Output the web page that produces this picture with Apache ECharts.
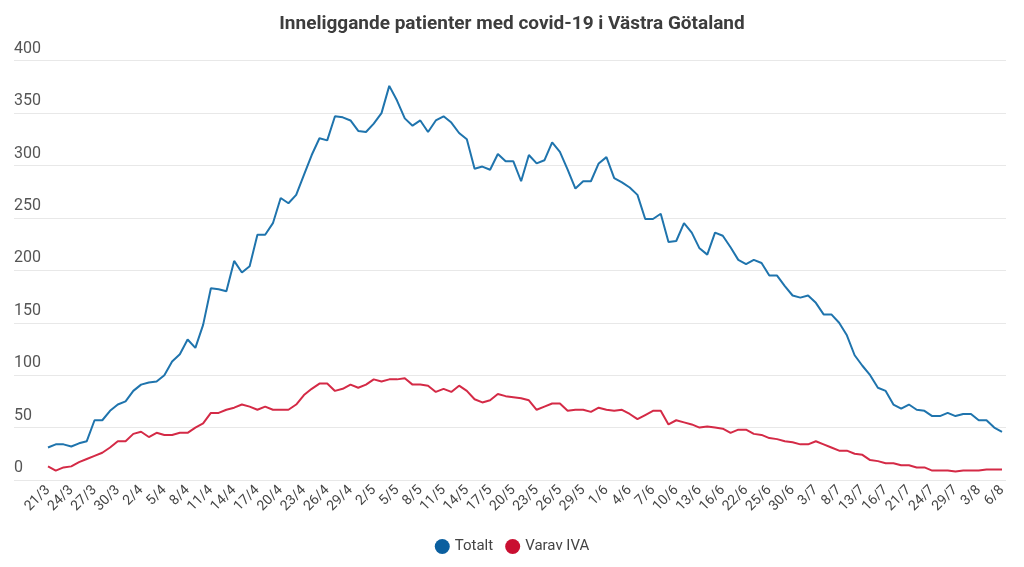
<!DOCTYPE html>
<html>
<head>
<meta charset="utf-8">
<script src="https://cdn.jsdelivr.net/npm/echarts@6/dist/echarts.min.js"></script>
<style>
html,body{margin:0;padding:0;background:#fff;}
#c{width:1024px;height:567px;}
</style>
</head>
<body>
<div id="c"></div>
<script>
const categories = [
'21/3','22/3','23/3','24/3','25/3','26/3','27/3','28/3','29/3','30/3','31/3',
'1/4','2/4','3/4','4/4','5/4','6/4','7/4','8/4','9/4','10/4','11/4','12/4','13/4','14/4','15/4','16/4','17/4','18/4','19/4','20/4','21/4','22/4','23/4','24/4','25/4','26/4','27/4','28/4','29/4','30/4',
'1/5','2/5','3/5','4/5','5/5','6/5','7/5','8/5','9/5','10/5','11/5','12/5','13/5','14/5','15/5','16/5','17/5','18/5','19/5','20/5','21/5','22/5','23/5','24/5','25/5','26/5','27/5','28/5','29/5','30/5','31/5',
'1/6','2/6','3/6','4/6','5/6','6/6','7/6','8/6','9/6','10/6','11/6','12/6','13/6','14/6','15/6','16/6','17/6','18/6','22/6','23/6','24/6','25/6','26/6','29/6','30/6',
'1/7','2/7','3/7','6/7','7/7','8/7','9/7','10/7','13/7','14/7','15/7','16/7','17/7','20/7','21/7','22/7','23/7','24/7','27/7','28/7','29/7','30/7','31/7',
'3/8','4/8','5/8','6/8'
];
const totalt = [
31,34,34,32,35,37,57,57,66,72,75,85,91,93,94,100,113,120,134,126,
148,183,182,180,209,198,204,234,234,245,269,264,272,291,310,326,324,347,346,343,
333,332,340,350,376,362,345,338,343,332,343,347,341,331,325,297,299,296,311,304,
304,285,310,302,305,322,313,296,278,285,285,302,308,288,284,279,272,249,249,254,
227,228,245,236,221,215,236,233,222,210,206,210,207,195,195,185,176,174,176,169,
158,158,150,138,119,109,100,88,85,72,68,72,67,66,61,61,64,61,63,63,
57,57,50,46
];
const varavIVA = [
13,9,12,13,17,20,23,26,31,37,37,44,46,41,45,43,43,45,45,50,
54,64,64,67,69,72,70,67,70,67,67,67,72,81,87,92,92,85,87,91,
88,91,96,94,96,96,97,91,91,90,84,87,84,90,85,77,74,76,82,80,
79,78,76,67,70,73,73,66,67,67,65,69,67,66,67,63,58,62,66,66,
53,57,55,53,50,51,50,49,45,48,48,44,43,40,39,37,36,34,34,37,
34,31,28,28,25,24,19,18,16,16,14,14,12,12,9,9,9,8,9,9,
9,10,10,10
];
const seriesNames = ['Totalt', 'Varav IVA'];
const titleText = 'Inneliggande patienter med covid-19 i Västra Götaland';

const chart = echarts.init(document.getElementById('c'), null, {renderer: 'canvas'});
const font = 'Roboto, "Noto Sans", sans-serif';
chart.setOption({
  animation: false,
  backgroundColor: '#ffffff',
  title: {
    text: titleText, left: 'center', top: 10,
    textStyle: {fontFamily: font, fontSize: 19, fontWeight: 'bold', color: '#3d3d3d'}
  },
  legend: {
    data: seriesNames, bottom: 8, left: 'center', icon: 'circle',
    itemWidth: 15, itemHeight: 15, itemGap: 12,
    textStyle: {fontFamily: font, fontSize: 15, color: '#444'}
  },
  grid: [
    {left: 48, right: 22, top: 60.7, bottom: 87, containLabel: false},
    {left: 14, right: 18, top: 60.7, bottom: 87, containLabel: false}
  ],
  xAxis: [
    {
      type: 'category', data: categories, boundaryGap: false, gridIndex: 0,
      axisLine: {show: false}, axisTick: {show: false},
      axisLabel: {interval: 2, rotate: 45, margin: 8, fontFamily: font, fontSize: 14, color: '#444'}
    },
    {type: 'value', gridIndex: 1, show: false, min: 0, max: 1}
  ],
  yAxis: [
    {type: 'value', gridIndex: 0, min: 0, max: 400, interval: 50,
     axisLabel: {show: false}, splitLine: {show: false}, axisLine: {show: false}, axisTick: {show: false}},
    {type: 'value', gridIndex: 1, min: 0, max: 400, interval: 50,
     axisLine: {show: false}, axisTick: {show: false},
     splitLine: {show: true, lineStyle: {color: '#e8e8e8', width: 1}},
     axisLabel: {inside: true, margin: 0, verticalAlign: 'bottom', padding: [0, 0, 4, 0],
                 fontFamily: font, fontSize: 16, color: '#555'}}
  ],
  series: [
    {name: seriesNames[0], type: 'line', data: totalt, xAxisIndex: 0, yAxisIndex: 0,
     showSymbol: false, symbol: 'circle',
     itemStyle: {color: '#0b5f9f'}, lineStyle: {color: '#1f74ad', width: 2}},
    {name: seriesNames[1], type: 'line', data: varavIVA, xAxisIndex: 0, yAxisIndex: 0,
     showSymbol: false, symbol: 'circle',
     itemStyle: {color: '#c90f31'}, lineStyle: {color: '#d42a46', width: 2}}
  ]
});
</script>
</body>
</html>
